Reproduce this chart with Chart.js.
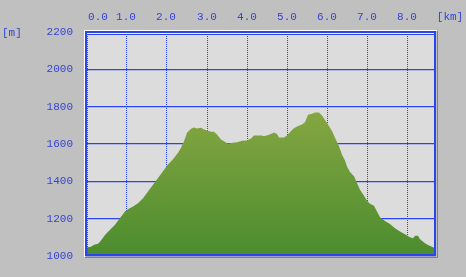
<!DOCTYPE html>
<html>
<head>
<meta charset="utf-8">
<script src="https://cdn.jsdelivr.net/npm/chart.js@4"></script>
<style>
  body { margin: 0; background: #c0c0c0; }
</style>
</head>
<body>
<canvas id="profile" width="466" height="277"></canvas>
<script>
// distance along the route [km] and elevation [m]
var distance_km = [0.00, 0.12, 0.20, 0.30, 0.36, 0.47, 0.60, 0.72, 0.85, 0.97,
  1.05, 1.17, 1.30, 1.42, 1.55, 1.67, 1.79, 1.92, 2.04, 2.17,
  2.28, 2.36, 2.44, 2.52, 2.61, 2.69, 2.77, 2.85, 2.94, 3.02,
  3.10, 3.18, 3.27, 3.35, 3.43, 3.53, 3.60, 3.77, 3.89, 4.01,
  4.10, 4.18, 4.38, 4.43, 4.55, 4.67, 4.76, 4.80, 4.92, 5.01,
  5.09, 5.17, 5.25, 5.38, 5.46, 5.53, 5.63, 5.71, 5.81, 5.87,
  5.94, 6.02, 6.11, 6.20, 6.29, 6.37, 6.44, 6.50, 6.58, 6.66,
  6.74, 6.83, 6.91, 6.99, 7.07, 7.16, 7.24, 7.32, 7.45, 7.57,
  7.69, 7.82, 7.94, 8.07, 8.13, 8.19, 8.25, 8.31, 8.44, 8.52,
  8.64, 8.71];
var elevation_m = [1045, 1050, 1060, 1066, 1077, 1113, 1140, 1167, 1203, 1238,
  1251, 1265, 1283, 1310, 1346, 1382, 1418, 1454, 1490, 1518,
  1553, 1580, 1615, 1660, 1682, 1689, 1683, 1687, 1678, 1672,
  1665, 1665, 1651, 1624, 1615, 1601, 1606, 1610, 1617, 1619,
  1630, 1646, 1646, 1642, 1649, 1662, 1653, 1635, 1635, 1646,
  1669, 1685, 1694, 1705, 1717, 1757, 1762, 1769, 1769, 1753,
  1728, 1705, 1669, 1633, 1588, 1543, 1511, 1480, 1450, 1427,
  1391, 1355, 1323, 1296, 1280, 1269, 1238, 1208, 1188, 1172,
  1149, 1131, 1117, 1101, 1095, 1108, 1108, 1090, 1068, 1059,
  1047, 1041];
var km_ticks = [0, 1, 2, 3, 4, 5, 6, 7, 8];
var m_ticks = [1000, 1200, 1400, 1600, 1800, 2000, 2200];

var blue = '#2a44f0';
var textBlue = '#3444d4';
var labelFont = '11px "Liberation Mono", "DejaVu Sans Mono", monospace';

var points = distance_km.map(function (d, i) { return { x: d, y: elevation_m[i] }; });

// gray plot background
var plotBackground = {
  id: 'plotBackground',
  beforeDraw: function (chart) {
    var a = chart.chartArea, c = chart.ctx;
    c.save();
    c.fillStyle = '#dcdcdc';
    c.fillRect(a.left, a.top, a.right - a.left, a.bottom - a.top);
    c.restore();
  }
};

// frame around the plot + top km labels + unit labels
var frameAndLabels = {
  id: 'frameAndLabels',
  afterDraw: function (chart) {
    var a = chart.chartArea, c = chart.ctx;
    var xs = chart.scales.x;
    c.save();
    // outer 3d edge
    c.lineWidth = 1;
    c.strokeStyle = '#ffffff';
    c.beginPath();
    c.moveTo(a.left - 1.5, a.bottom + 1);
    c.lineTo(a.left - 1.5, a.top - 1.5);
    c.lineTo(a.right + 1, a.top - 1.5);
    c.stroke();
    c.strokeStyle = '#808080';
    c.beginPath();
    c.moveTo(a.right + 1.5, a.top - 1);
    c.lineTo(a.right + 1.5, a.bottom + 1.5);
    c.lineTo(a.left - 1, a.bottom + 1.5);
    c.stroke();
    // blue border
    c.strokeStyle = blue;
    c.lineWidth = 2;
    c.strokeRect(a.left, a.top, a.right - a.left - 1, a.bottom - a.top - 1);
    // dotted inner edge on the left
    c.lineWidth = 1;
    c.setLineDash([1, 1]);
    c.beginPath();
    c.moveTo(a.left + 1.5, a.top);
    c.lineTo(a.left + 1.5, a.bottom);
    c.stroke();
    c.setLineDash([]);
    c.strokeStyle = '#f4f4f4';
    c.beginPath();
    c.moveTo(a.left + 1, a.top + 1.5);
    c.lineTo(a.right - 2, a.top + 1.5);
    c.stroke();
    c.strokeStyle = blue;
    c.beginPath();
    c.moveTo(a.left + 1, a.top + 2.5);
    c.lineTo(a.right - 2, a.top + 2.5);
    c.stroke();

    // km labels along the top
    c.fillStyle = textBlue;
    c.font = labelFont;
    c.textAlign = 'center';
    c.textBaseline = 'middle';
    km_ticks.forEach(function (k, i) {
      var px = xs.getPixelForValue(k);
      if (i === 0) px += 12;
      c.fillText(k.toFixed(1), px, 17);
    });
    c.fillText('[km]', 450, 17);
    c.textAlign = 'left';
    c.fillText('[m]', 2, 33);
    c.restore();
  }
};

var ctx = document.getElementById('profile').getContext('2d');
var profileChart = new Chart(ctx, {
  type: 'line',
  data: {
    datasets: [{
      data: points,
      borderWidth: 0,
      pointRadius: 0,
      tension: 0,
      fill: 'start',
      backgroundColor: function (context) {
        var a = context.chart.chartArea;
        if (!a) return '#6a9a3a';
        var g = context.chart.ctx.createLinearGradient(0, a.top + 60, 0, a.bottom);
        g.addColorStop(0, '#8caa44');
        g.addColorStop(1, '#4c8c2e');
        return g;
      }
    }]
  },
  options: {
    responsive: false,
    animation: false,
    events: [],
    layout: { padding: { top: 0, left: 0, right: 30, bottom: 21 } },
    plugins: {
      legend: { display: false },
      tooltip: { enabled: false }
    },
    scales: {
      x: {
        type: 'linear',
        position: 'top',
        alignToPixels: true,
        min: 0,
        max: 8.71,
        afterBuildTicks: function (scale) {
          scale.ticks = km_ticks.map(function (v) { return { value: v }; });
        },
        afterFit: function (scale) { scale.height = 32; },
        ticks: { display: false },
        grid: { color: blue, lineWidth: 1, drawTicks: false },
        border: { display: false, dash: [1, 1] }
      },
      y: {
        min: 1000,
        max: 2200,
        afterBuildTicks: function (scale) {
          scale.ticks = m_ticks.map(function (v) { return { value: v }; });
        },
        afterFit: function (scale) { scale.width = 86; },
        ticks: {
          color: textBlue,
          font: { family: '"Liberation Mono", "DejaVu Sans Mono", monospace', size: 11 },
          padding: 13,
          callback: function (v) { return String(v); }
        },
        grid: { color: blue, lineWidth: 1.3, drawTicks: false },
        border: { display: false }
      }
    }
  },
  plugins: [plotBackground, frameAndLabels]
});
</script>
</body>
</html>
